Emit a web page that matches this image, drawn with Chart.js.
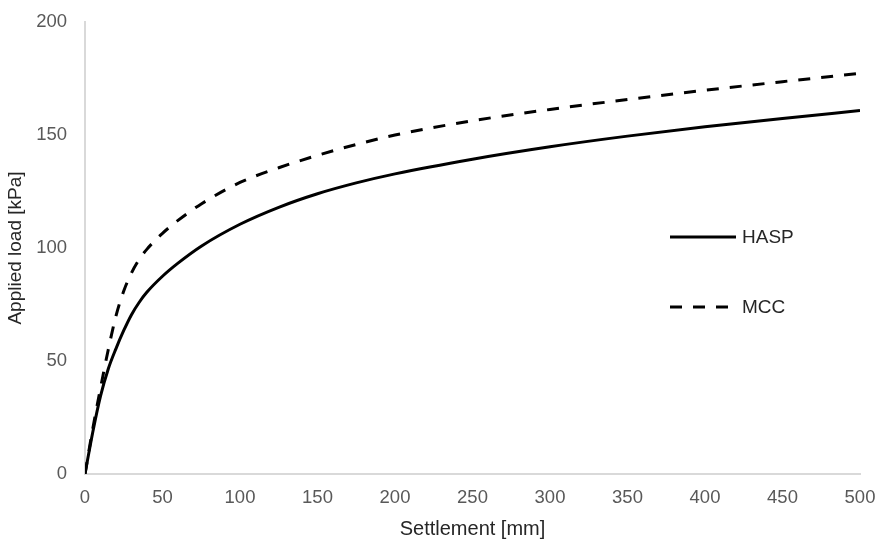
<!DOCTYPE html>
<html>
<head>
<meta charset="utf-8">
<script src="https://cdn.jsdelivr.net/npm/chart.js@4.4.1/dist/chart.umd.min.js"></script>
<style>
  body { margin: 0; background: #fff; }
  #wrap { width: 883px; height: 541px; }
</style>
</head>
<body>
<div id="wrap"><canvas id="loadChart" width="883" height="541"></canvas></div>
<script>
// settlement [mm] where the curves were read
const settlement = [0, 5, 10, 15, 20, 25, 30, 35, 40, 50, 60, 75, 100, 125, 150, 175, 200, 250, 300, 350, 400, 450, 500];
// applied load [kPa]
const haspLoad = [0, 18.5, 34.5, 46.5, 55.5, 63.5, 70.5, 76, 80.5, 87.5, 93.3, 100.8, 110.5, 118, 124, 128.8, 132.8, 139.3, 144.8, 149.5, 153.6, 157.3, 160.8];
const mccLoad  = [0, 20, 38, 55, 70, 81, 89, 95, 99.5, 106.5, 112.2, 119.5, 129, 135.5, 141, 145.8, 150, 156.3, 161.3, 165.7, 169.8, 173.6, 177.3];
const xTicks = [0, 50, 100, 150, 200, 250, 300, 350, 400, 450, 500];
const yTicks = [0, 50, 100, 150, 200];

const toPoints = (xs, ys) => xs.map((x, i) => ({ x: x, y: ys[i] }));
const FONT = '"Liberation Sans", Arial, sans-serif';

// legend drawn inside the plot, like the original figure
const insideLegend = {
  id: 'insideLegend',
  afterDraw(chart, args, opts) {
    const ctx = chart.ctx;
    chart.data.datasets.forEach((ds, i) => {
      const y = opts.top + i * opts.gap;
      ctx.save();
      ctx.strokeStyle = ds.borderColor;
      ctx.lineWidth = ds.borderWidth;
      ctx.setLineDash(ds.borderDash || []);
      ctx.beginPath();
      ctx.moveTo(opts.left, y);
      ctx.lineTo(opts.left + opts.lineLength, y);
      ctx.stroke();
      ctx.setLineDash([]);
      ctx.fillStyle = '#262626';
      ctx.font = '19px ' + FONT;
      ctx.textBaseline = 'middle';
      ctx.fillText(ds.label, opts.left + opts.lineLength + 6, y + 1);
      ctx.restore();
    });
  }
};

new Chart(document.getElementById('loadChart'), {
  type: 'line',
  data: {
    datasets: [{
      label: 'HASP',
      data: toPoints(settlement, haspLoad),
      borderColor: '#000',
      borderWidth: 3,
      pointRadius: 0,
      cubicInterpolationMode: 'monotone',
      fill: false
    }, {
      label: 'MCC',
      data: toPoints(settlement, mccLoad),
      borderColor: '#000',
      borderWidth: 3,
      borderDash: [12, 11],
      pointRadius: 0,
      cubicInterpolationMode: 'monotone',
      fill: false
    }]
  },
  options: {
    responsive: false,
    animation: false,
    layout: { padding: { top: 22, right: 23, left: 0, bottom: 0 } },
    plugins: {
      legend: { display: false },
      tooltip: { enabled: false },
      insideLegend: { left: 670, top: 237, gap: 70, lineLength: 66 }
    },
    scales: {
      x: {
        type: 'linear',
        min: 0,
        max: 500,
        afterBuildTicks: s => { s.ticks = xTicks.map(v => ({ value: v })); },
        afterFit: s => { s.height = 67; s.paddingLeft = 0; s.paddingRight = 0; },
        grid: { display: false, drawTicks: false },
        border: { display: true, color: '#d9d9d9', width: 2 },
        ticks: {
          padding: 13,
          color: '#595959',
          font: { family: FONT, size: 18.5 }
        },
        title: {
          display: true,
          text: 'Settlement [mm]',
          color: '#262626',
          padding: { top: 0, bottom: 0 },
          font: { family: FONT, size: 20 }
        }
      },
      y: {
        min: 0,
        max: 200,
        afterBuildTicks: s => { s.ticks = yTicks.map(v => ({ value: v })); },
        afterFit: s => { s.width = 85; s.paddingTop = 0; s.paddingBottom = 0; },
        grid: { display: false, drawTicks: false },
        border: { display: true, color: '#d9d9d9', width: 2 },
        ticks: {
          padding: 18,
          color: '#595959',
          font: { family: FONT, size: 18.5 }
        },
        title: {
          display: true,
          text: 'Applied load [kPa]',
          color: '#262626',
          padding: { top: 4, bottom: 0 },
          font: { family: FONT, size: 19 }
        }
      }
    }
  },
  plugins: [insideLegend]
});
</script>
</body>
</html>
